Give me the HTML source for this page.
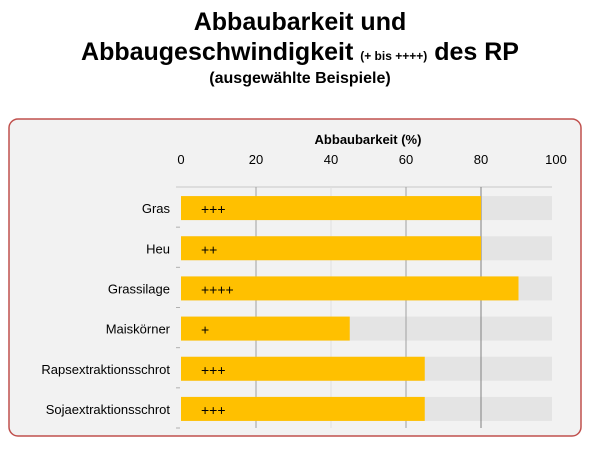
<!DOCTYPE html>
<html><head><meta charset="utf-8"><style>
body{margin:0;width:600px;height:450px;background:#fff;font-family:"Liberation Sans",sans-serif;overflow:hidden}
.t{position:absolute;left:0;width:600px;text-align:center;font-weight:bold;color:#000}
</style></head><body>
<div class="t" style="top:8px;font-size:25px">Abbaubarkeit und</div>
<div class="t" style="top:38px;font-size:25px">Abbaugeschwindigkeit <span style="font-size:12px">(+ bis ++++)</span> des RP</div>
<div class="t" style="top:70px;font-size:16px">(ausgewählte Beispiele)</div>
<svg id="c" width="600" height="450" style="position:absolute;left:0;top:0">
<rect x="9" y="119" width="572" height="317" rx="9" fill="#f2f2f2" stroke="#c0504d" stroke-width="1.5"/>
<text x="368" y="144" text-anchor="middle" font-size="13" font-weight="bold" font-family="Liberation Sans">Abbaubarkeit (%)</text>
<g id="g"></g>
</svg>
<script>
const categories=["Gras","Heu","Grassilage","Maiskörner","Rapsextraktionsschrot","Sojaextraktionsschrot"];
const values=[80,80,90,45,65,65];
const speed=["+++","++","++++","+","+++","+++"];
const ticks=[0,20,40,60,80,100];
(function(){
const NS="http://www.w3.org/2000/svg";
const g=document.getElementById('g');
const x0=181,x1=556,pTop=187,pBot=428;
const sx=v=>x0+(x1-x0)*v/100;
const bandH=(pBot-pTop)/categories.length;
function mk(t,a){const e=document.createElementNS(NS,t);for(const k in a)e.setAttribute(k,a[k]);g.appendChild(e);return e;}
mk('line',{x1:x0-5,x2:x1-4,y1:pTop,y2:pTop,stroke:'#c8c8c8'});
categories.forEach((c,i)=>{
 const cy=pTop+bandH*(i+0.5)+1;
 const bg=mk('rect',{x:x0,y:cy-12,width:x1-4-x0,height:24,fill:'#e4e4e4'});
 
 
});
ticks.forEach(t=>{
 const tl=mk('text',{x:sx(t),y:164,'text-anchor':'middle','font-size':13,'font-family':'Liberation Sans'});
 tl.textContent=t;
 
 
 if(t>0&&t<100){
  const gl=mk('line',{x1:sx(t),x2:sx(t),y1:pTop,y2:pBot,stroke:t==80?'#808080':(t==40?'#e0e0e0':'#a0a0a0'),'stroke-width':1});
  
  
 }
});
categories.forEach((c,i)=>{
 const cy=pTop+bandH*(i+0.5)+1;
 const b=mk('rect',{x:x0,y:cy-12,width:sx(values[i])-x0,height:24,fill:'#ffc000'});
 
 
 const l=mk('text',{x:170,y:cy+5,'text-anchor':'end','font-size':13,'font-family':'Liberation Sans'});
 l.textContent=c;
 
 
 const s=mk('text',{x:201,y:cy+6,'font-size':14,'font-family':'Liberation Sans'});
 s.textContent=speed[i];
 
 
 mk('line',{x1:x0-5,x2:x0-1,y1:cy+bandH/2-1,y2:cy+bandH/2-1,stroke:'#b0b0b0'});
});
})();
</script>
</body></html>
